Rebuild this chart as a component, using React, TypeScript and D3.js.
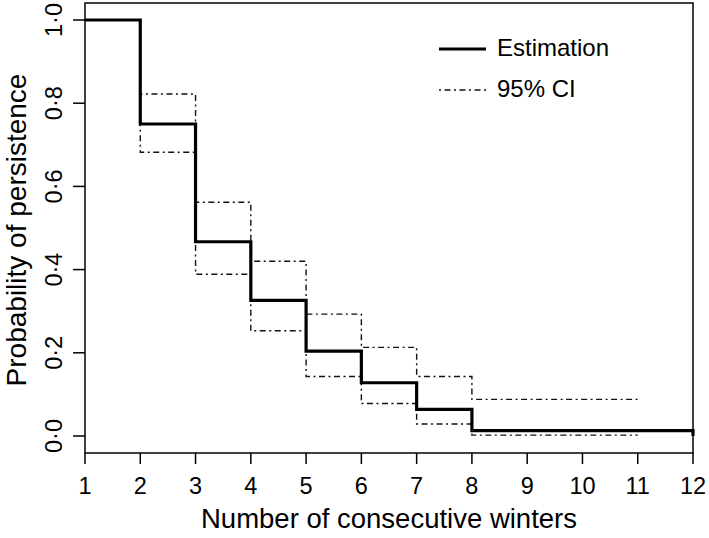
import React from "react";
import * as d3 from "d3";

const W = 709;
const H = 538;

const estTimes = [1, 2, 3, 4, 5, 6, 7, 8, 12];
const estValues = [1.0, 0.75, 0.467, 0.326, 0.204, 0.128, 0.064, 0.013, 0.0];

const ciTimes = [1, 2, 3, 4, 5, 6, 7, 8, 11];
const upperValues = [1.0, 0.822, 0.562, 0.42, 0.293, 0.213, 0.143, 0.088, 0.088];
const lowerValues = [1.0, 0.682, 0.389, 0.253, 0.143, 0.078, 0.029, 0.002, 0.002];

const xTicks = [1, 2, 3, 4, 5, 6, 7, 8, 9, 10, 11, 12];
const yTicks = [0, 0.2, 0.4, 0.6, 0.8, 1.0];

const legendLabels = ["Estimation", "95% CI"];
const xTitle = "Number of consecutive winters";
const yTitle = "Probability of persistence";

const FONT = "'Liberation Sans', Arial, Helvetica, sans-serif";

export default function App() {
  const left = 85, right = 693, top = 3, bottom = 453;
  const x = d3.scaleLinear().domain([1, 12]).range([left, right]);
  const y = d3.scaleLinear().domain([0, 1]).range([436, 20]);

  const line = d3
    .line<[number, number]>()
    .x((d) => x(d[0]))
    .y((d) => y(d[1]))
    .curve(d3.curveStepAfter);

  const est = line(estTimes.map((t, i) => [t, estValues[i]]) as [number, number][]) || "";
  const up = line(ciTimes.map((t, i) => [t, upperValues[i]]) as [number, number][]) || "";
  const lo = line(ciTimes.map((t, i) => [t, lowerValues[i]]) as [number, number][]) || "";

  const fmt = (v: number) => d3.format(".1f")(v).replace(".", "\u00B7");
  const dash = "2,3.5,6,3.5";

  return (
    <svg
      width={W}
      height={H}
      style={{ position: "absolute", left: 0, top: 0, background: "#fff" }}
      fontFamily={FONT}
    >
      <rect x={0} y={0} width={W} height={H} fill="#fff" />
      {/* CI lines */}
      <path d={up} fill="none" stroke="#111" strokeWidth={1.4} strokeDasharray={dash} />
      <path d={lo} fill="none" stroke="#111" strokeWidth={1.4} strokeDasharray={dash} />
      {/* Estimation */}
      <path d={est} fill="none" stroke="#000" strokeWidth={3.2} />
      {/* Box */}
      <rect x={left} y={top} width={right - left} height={bottom - top} fill="none" stroke="#000" strokeWidth={1.5} />
      {/* X axis */}
      {xTicks.map((t) => (
        <g key={"x" + t}>
          <line x1={x(t)} x2={x(t)} y1={bottom} y2={bottom + 11} stroke="#000" strokeWidth={1.5} />
          <text x={x(t)} y={494} fontSize={23.5} textAnchor="middle" fill="#000">
            {t}
          </text>
        </g>
      ))}
      <text x={(left + right) / 2} y={528} fontSize={27.5} textAnchor="middle" fill="#000">
        {xTitle}
      </text>
      {/* Y axis */}
      {yTicks.map((t) => (
        <g key={"y" + t}>
          <line x1={left - 12} x2={left} y1={y(t)} y2={y(t)} stroke="#000" strokeWidth={1.5} />
          <text
            transform={`translate(62,${y(t)}) rotate(-90)`}
            fontSize={23.5}
            textAnchor="middle"
            fill="#000"
          >
            {fmt(t)}
          </text>
        </g>
      ))}
      <text
        transform={`translate(26,${(top + bottom) / 2 + 2}) rotate(-90)`}
        fontSize={28}
        textAnchor="middle"
        fill="#000"
      >
        {yTitle}
      </text>
      {/* Legend */}
      <line x1={439} x2={486} y1={49} y2={49} stroke="#000" strokeWidth={3.2} />
      <text x={497} y={56} fontSize={24} fill="#000">
        {legendLabels[0]}
      </text>
      <line x1={439} x2={486} y1={90} y2={90} stroke="#111" strokeWidth={1.4} strokeDasharray={dash} />
      <text x={497} y={97} fontSize={24} fill="#000">
        {legendLabels[1]}
      </text>
    </svg>
  );
}
